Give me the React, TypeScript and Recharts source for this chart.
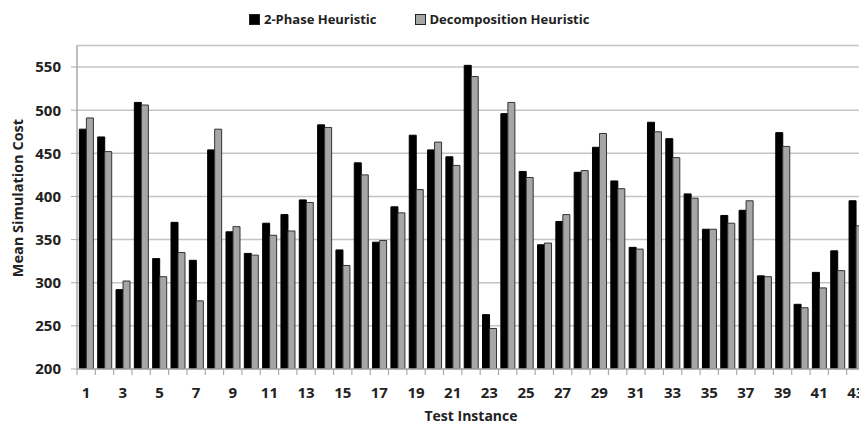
import { BarChart, Bar, XAxis, YAxis, CartesianGrid, Legend } from "recharts";

const instances = Array.from({ length: 43 }, (_, i) => String(i + 1));
const twoPhase = [
  478, 469, 292, 509, 328, 370, 326, 454, 359, 334,
  369, 379, 396, 483, 338, 439, 347, 388, 471, 454,
  446, 552, 263, 496, 429, 344, 371, 428, 457, 418,
  341, 486, 467, 403, 362, 378, 384, 308, 474, 275,
  312, 337, 395,
];
const decomposition = [
  491, 452, 302, 506, 307, 335, 279, 478, 365, 332,
  355, 360, 393, 480, 320, 425, 349, 381, 408, 463,
  436, 539, 247, 509, 422, 346, 379, 430, 473, 409,
  339, 475, 445, 398, 362, 369, 395, 307, 458, 271,
  294, 314, 366,
];
const yTicks = [200, 250, 300, 350, 400, 450, 500, 550];

const data = instances.map((name, i) => ({
  name,
  twoPhase: twoPhase[i],
  decomposition: decomposition[i],
}));

const FONT = "'Open Sans', 'DejaVu Sans', sans-serif";
const BAND = 788 / 43;

function XTick(props: any) {
  const { x, y, payload } = props;
  const idx = Number(payload.value) - 1;
  const left = x - BAND / 2;
  return (
    <g>
      <line x1={left} x2={left} y1={y} y2={y + 6} stroke="#aaa" strokeWidth={1.2} />
      {idx % 2 === 0 && (
        <text x={x} y={y + 29} textAnchor="middle" fontFamily={FONT} fontWeight={700} fontSize={15} fill="#222">
          {payload.value}
        </text>
      )}
    </g>
  );
}

function TopLegend() {
  const item = (fill: string, label: string) => (
    <span style={{ display: "inline-flex", alignItems: "center", marginRight: 38 }}>
      <span style={{ width: 9, height: 9, background: fill, border: "1px solid #222", marginRight: 4 }} />
      <span>{label}</span>
    </span>
  );
  return (
    <div style={{ fontFamily: FONT, fontWeight: 700, fontSize: 13, color: "#222", whiteSpace: "nowrap" }}>
      {item("#000", "2-Phase Heuristic")}
      {item("#a6a6a6", "Decomposition Heuristic")}
    </div>
  );
}

export default function App() {
  return (
    <div style={{ position: "fixed", left: 0, top: 0, width: 859, height: 424, overflow: "hidden", background: "#fff" }}>
      <BarChart
        width={870}
        height={424}
        data={data}
        margin={{ top: 27, right: 5, bottom: 0, left: 0 }}
        barCategoryGap="13%"
        barGap={0}
      >
        <CartesianGrid horizontal vertical={false} stroke="#c4c4c4" strokeWidth={1.5} />
        <XAxis
          dataKey="name"
          interval={0}
          height={55}
          tickLine={false}
          tickSize={0}
          tickMargin={0}
          axisLine={{ stroke: "#aaa", strokeWidth: 1.5 }}
          tick={<XTick />}
          label={{ value: "Test Instance", position: "insideBottom", offset: 3, fontFamily: FONT, fontWeight: 700, fontSize: 14, fill: "#222" }}
        />
        <YAxis
          width={77}
          domain={[200, 575]}
          ticks={yTicks}
          allowDataOverflow
          tickSize={6}
          tickMargin={10}
          tickLine={{ stroke: "#aaa" }}
          axisLine={{ stroke: "#aaa", strokeWidth: 1.5 }}
          tick={{ fontFamily: FONT, fontWeight: 700, fontSize: 15, fill: "#222" }}
          label={{ value: "Mean Simulation Cost", angle: -90, position: "insideLeft", offset: 18, dy: 70, fontFamily: FONT, fontWeight: 700, fontSize: 14.5, fill: "#222" }}
        />
        <Legend
          verticalAlign="top"
          content={<TopLegend />}
          wrapperStyle={{ top: 10, left: 249, width: "auto" }}
        />
        <Bar dataKey="twoPhase" name="2-Phase Heuristic" fill="#000" stroke="#000" strokeWidth={1} isAnimationActive={false} />
        <Bar dataKey="decomposition" name="Decomposition Heuristic" fill="#a6a6a6" stroke="#333" strokeWidth={1} isAnimationActive={false} />
      </BarChart>
    </div>
  );
}
